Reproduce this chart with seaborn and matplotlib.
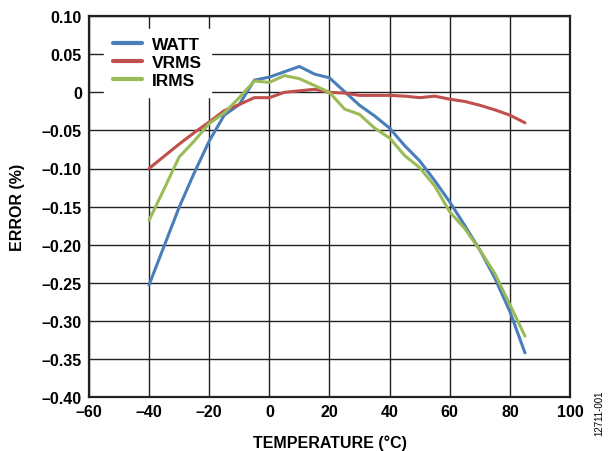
import pandas as pd
import matplotlib
matplotlib.use("Agg")
import matplotlib.pyplot as plt
import seaborn as sns
from matplotlib.ticker import FuncFormatter

# ---------- Data ----------
temperature = [-40, -35, -30, -25, -20, -15, -10, -5, 0, 5, 10, 15, 20, 25,
               30, 35, 40, 45, 50, 55, 60, 65, 70, 75, 80, 85]
watt = [-0.253, -0.202, -0.151, -0.106, -0.064, -0.030, -0.016, 0.016, 0.020, 0.027,
        0.034, 0.024, 0.019, 0.001, -0.017, -0.031, -0.047, -0.070, -0.090, -0.116,
        -0.144, -0.175, -0.207, -0.244, -0.288, -0.342]
vrms = [-0.100, -0.084, -0.068, -0.053, -0.039, -0.024, -0.016, -0.007, -0.007, 0.000,
        0.002, 0.004, 0.000, -0.001, -0.004, -0.004, -0.004, -0.005, -0.007, -0.005,
        -0.009, -0.012, -0.017, -0.023, -0.030, -0.040]
irms = [-0.168, -0.127, -0.085, -0.064, -0.041, -0.027, -0.007, 0.015, 0.013, 0.022,
        0.018, 0.009, 0.000, -0.022, -0.029, -0.047, -0.060, -0.083, -0.099, -0.123,
        -0.157, -0.179, -0.207, -0.238, -0.279, -0.320]
series_names = ["WATT", "VRMS", "IRMS"]
colors = ["#4a7ebb", "#c0504d", "#9bbb59"]

df = pd.DataFrame({"temp": temperature, "WATT": watt, "VRMS": vrms, "IRMS": irms})
long = df.melt(id_vars="temp", var_name="series", value_name="error")

# ---------- Plot ----------
sns.set_style("white", {"text.color": "black", "axes.labelcolor": "black",
                        "xtick.color": "black", "ytick.color": "black"})
plt.rcParams["font.family"] = ["Liberation Sans", "DejaVu Sans"]
plt.rcParams["font.weight"] = "bold"

fig = plt.figure(figsize=(6.13, 4.52), dpi=100)
ax = fig.add_axes([0.145, 0.1195, 0.785, 0.8425])

sns.lineplot(data=long, x="temp", y="error", hue="series", hue_order=series_names,
             palette=colors, linewidth=2.2, ax=ax, zorder=3)

ax.set_xlim(-60, 100)
ax.set_ylim(-0.40, 0.10)
ax.set_xticks(range(-60, 101, 20))
ax.set_yticks([0.10 - 0.05 * i for i in range(11)])

def fmt_x(v, pos):
    s = f"{abs(v):.0f}"
    return ("\u2013" + s) if v < -1e-9 else s

def fmt_y(v, pos):
    if abs(v) < 1e-9:
        return "0"
    s = f"{abs(v):.2f}"
    return ("\u2013" + s) if v < 0 else s

ax.xaxis.set_major_formatter(FuncFormatter(fmt_x))
ax.yaxis.set_major_formatter(FuncFormatter(fmt_y))
ax.tick_params(axis="both", labelsize=11.5, length=0, pad=5, labelcolor="black")
for lbl in ax.get_xticklabels() + ax.get_yticklabels():
    lbl.set_fontweight("bold")

ax.grid(True, color="#222222", linewidth=1.0, zorder=0)
ax.set_axisbelow(True)
for sp in ax.spines.values():
    sp.set_color("#222222")
    sp.set_linewidth(1.6)

ax.set_xlabel("TEMPERATURE (°C)", fontsize=11.5, fontweight="bold", labelpad=11)
ax.set_ylabel("ERROR (%)", fontsize=11.5, fontweight="bold", labelpad=12)

leg = ax.legend(loc="upper left", bbox_to_anchor=(0.014, 0.99), frameon=True,
                fancybox=False, framealpha=1, edgecolor="white", fontsize=12.5,
                handlelength=1.7, handletextpad=0.55, labelspacing=0.15,
                borderpad=0.5)
for t in leg.get_texts():
    t.set_fontweight("bold")
    t.set_color("black")
for h in leg.get_lines():
    h.set_linewidth(3)

fig.text(0.978, 0.085, "12711-001", rotation=90, fontsize=7, fontweight="normal",
         ha="center", va="center", color="black")

fig.savefig("out.png", dpi=100)
plt.close(fig)
